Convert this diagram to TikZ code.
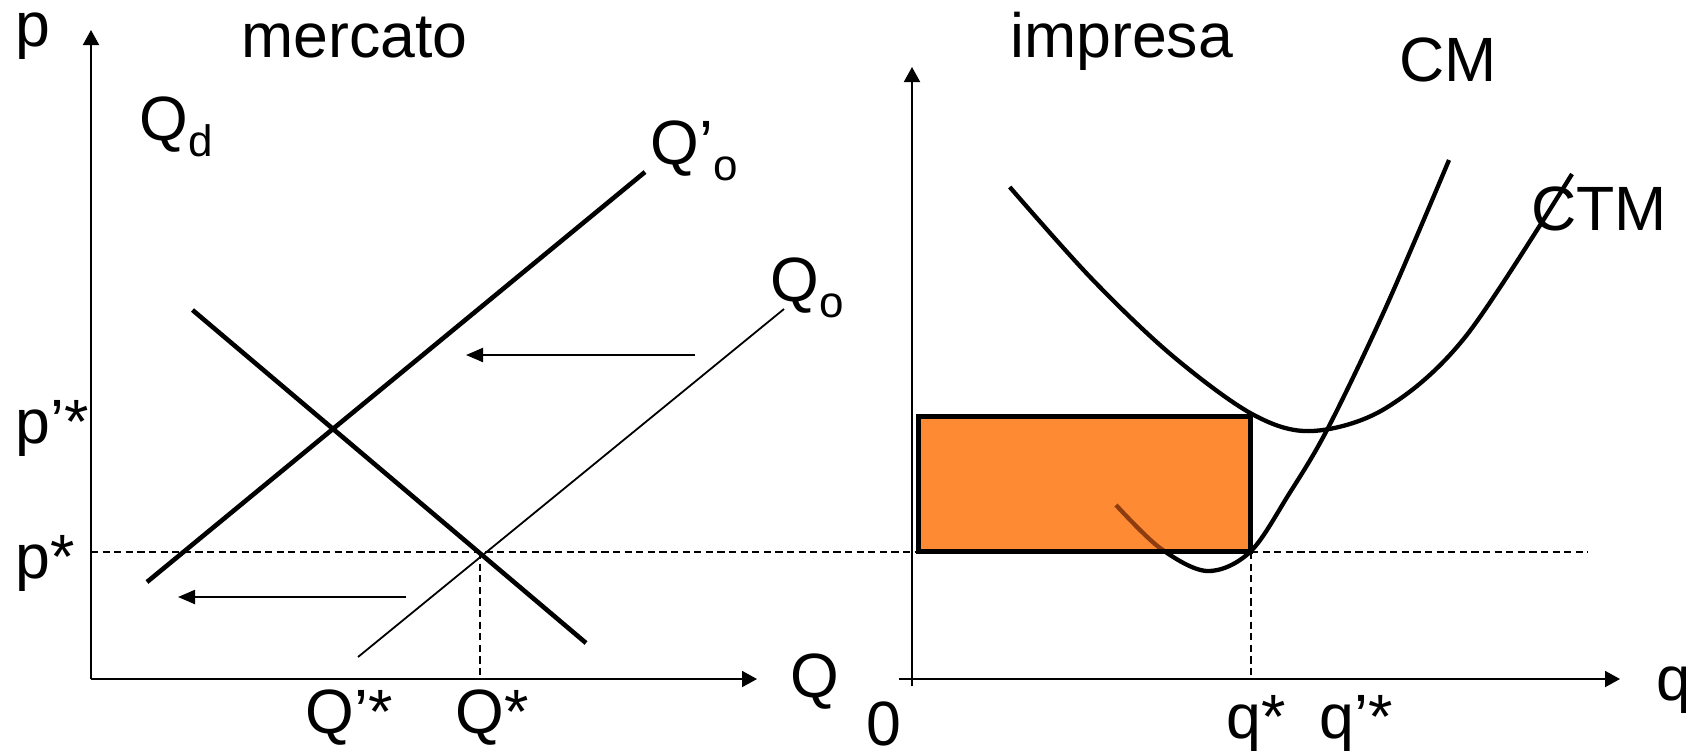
\documentclass[tikz,border=0pt]{standalone}
\usepackage{fontspec}
\setmainfont{Liberation Sans}
\usetikzlibrary{arrows.meta}
\definecolor{rectfill}{RGB}{255,138,52}
\definecolor{cmbrown}{RGB}{140,60,15}
\newcommand\lsub[1]{\raisebox{-8pt}{\fontsize{22}{25}\selectfont #1}}
\begin{document}
\begin{tikzpicture}[x=0.5pt,y=-0.5pt,
 lbl/.style={font=\fontsize{31.3}{37}\selectfont, inner sep=0pt, anchor=base west},
 axisln/.style={line width=1pt, -{Triangle[length=7.5pt,width=8pt]}},
 thickln/.style={line width=2.3pt},
 thinln/.style={line width=0.9pt},
 shiftarrow/.style={line width=1pt, -{Triangle[length=8.5pt,width=7pt]}},
 guide/.style={line width=1pt, dash pattern=on 3.6pt off 2.2pt},
 costcurve/.style={line width=2.15pt},
 boxborder/.style={line width=2.3pt},
]
\useasboundingbox (0,0) rectangle (1686,752);
% ---- coordinates ----
\coordinate (LO) at (91,679);
\coordinate (LY) at (91,30);
\coordinate (LX) at (757,679);
\coordinate (RYb) at (912,686);
\coordinate (RY) at (912,67);
\coordinate (RXl) at (899,679);
\coordinate (RX) at (1620,679);
\coordinate (PSl) at (91,552);
\coordinate (PSr) at (1588,552);
\coordinate (EQ) at (480,552);
\coordinate (EQb) at (480,679);
\coordinate (QSt) at (1251,552);
\coordinate (QSb) at (1251,679);
\coordinate (QOPa) at (147,582);
\coordinate (QOPb) at (645,172);
\coordinate (QDa) at (192.5,310);
\coordinate (QDb) at (586,643);
\coordinate (QOa) at (358,657);
\coordinate (QOb) at (784,309);
\coordinate (A1s) at (695,355);
\coordinate (A1e) at (466,355);
\coordinate (A2s) at (406,597);
\coordinate (A2e) at (178,597);
\coordinate (RBl) at (918.7,416.7);
\coordinate (RBr) at (1250.7,551.7);
\def\cmcurve{plot[smooth,tension=0.55] coordinates {(1116,505) (1160,548) (1207,571) (1250,552) (1289,494) (1328,428) (1386,307) (1449,160)}}
% ---- guides ----
\draw[guide] (PSl) -- (PSr);
\draw[guide] (EQ) -- (EQb);
\draw[guide] (QSt) -- (QSb);
% ---- axes ----
\draw[axisln] (LO) -- (LY);
\draw[axisln] (LO) -- (LX);
\draw[axisln] (RYb) -- (RY);
\draw[axisln] (RXl) -- (RX);
% ---- market lines ----
\draw[thickln] (QOPa) -- (QOPb);
\draw[thickln] (QDa) -- (QDb);
\draw[thinln] (QOa) -- (QOb);
\draw[shiftarrow] (A1s) -- (A1e);
\draw[shiftarrow] (A2s) -- (A2e);
% ---- firm ----
\draw[costcurve] \cmcurve;
\fill[rectfill] (RBl) rectangle (RBr);
\begin{scope}
\clip (RBl) rectangle (RBr);
\draw[costcurve, cmbrown] \cmcurve;
\end{scope}
\draw[boxborder] (RBl) rectangle (RBr);
\draw[costcurve] plot[smooth,tension=0.55] coordinates {(1009.7,187) (1091,278) (1171.5,355) (1252,414) (1312,431) (1386,408) (1466,336) (1572,174)};
% ---- labels ----
\node[lbl] (pL) at (15,46) {p};
\node[lbl] (mercato) at (241,57) {mercato};
\node[lbl] (Qd) at (139,140) {Q\lsub{d}};
\node[lbl] (Qop) at (650,164) {Q’\lsub{o}};
\node[lbl] (Qo) at (770,301) {Q\lsub{o}};
\node[lbl] (ppstar) at (15,443) {p’*};
\node[lbl] (pstar) at (15,578) {p*};
\node[lbl] (Qpstar) at (305,733) {Q’*};
\node[lbl] (Qstar) at (455,733) {Q*};
\node[lbl] (Qax) at (790,697) {Q};
\node[lbl] (impresa) at (1010,57) {impresa};
\node[lbl] (CM) at (1399,81) {CM};
\node[lbl] (CTM) at (1531,230) {CTM};
\node[lbl] (zero) at (866,745) {0};
\node[lbl] (qstar) at (1226,738) {q*};
\node[lbl] (qpstar) at (1319,738) {q’*};
\node[lbl] (qax) at (1656,700) {q};
\end{tikzpicture}
\end{document}
